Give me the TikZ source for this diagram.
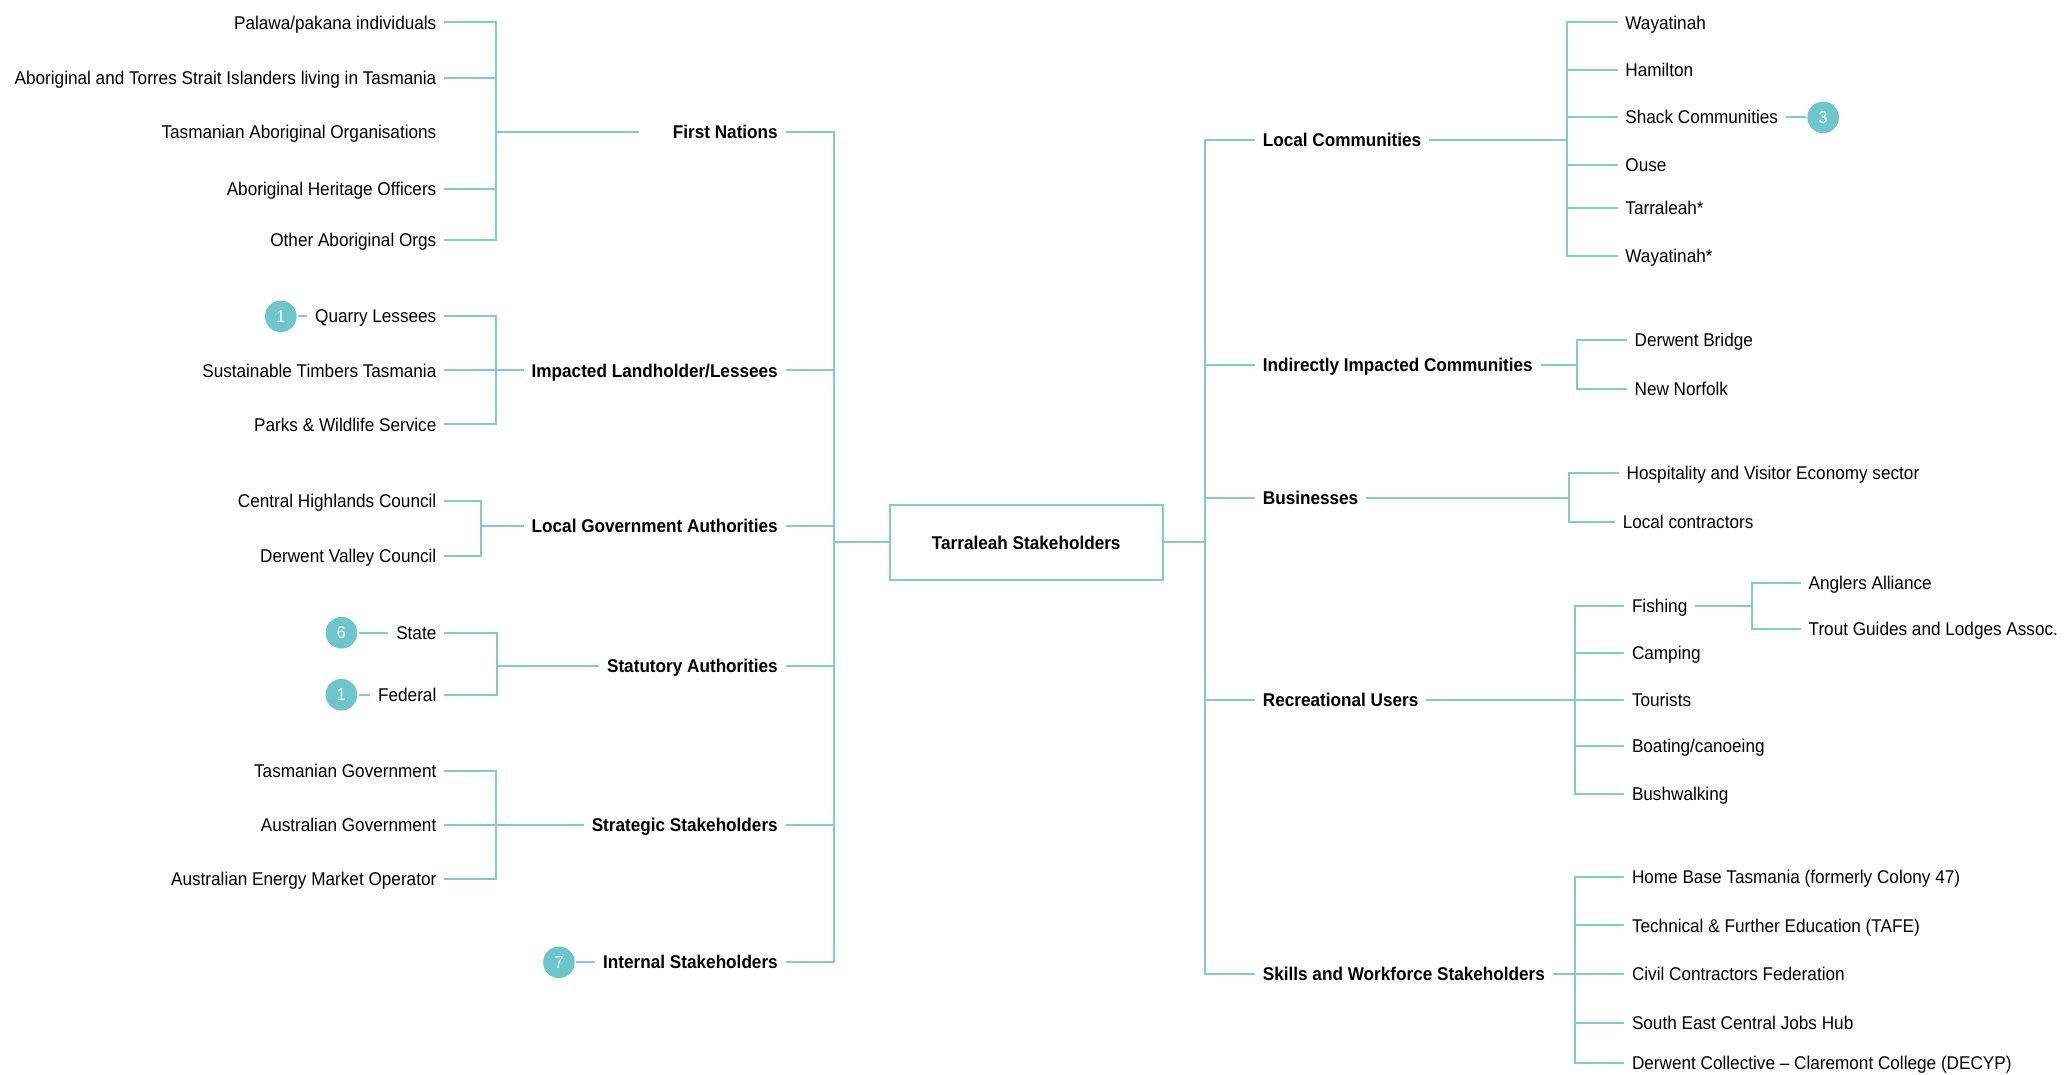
\documentclass[tikz,border=0pt]{standalone}
\usepackage{fontspec}
\setmainfont{Liberation Sans}[FakeStretch=0.93]

\begin{document}
\begin{tikzpicture}
    [x=1pt, y=-1pt,
    inner sep=3pt, outer sep=3pt,%
    link/.style={line width=1.5pt, draw=linkteal},
    leaf/.style={font=\fontsize{14}{16}\selectfont, text height=12pt, text depth=2pt},
    group/.style={leaf, font=\fontsize{14}{16}\selectfont\bfseries},
    badge/.style={circle, fill=badgeteal, text=white, minimum size=24pt,
        inner sep=0pt, outer sep=1pt, font=\fontsize{13}{13}\selectfont}]

    % Colors
    \definecolor{linkteal}{HTML}{7DCCCF}
    \definecolor{badgeteal}{HTML}{6CC7CC}

    \useasboundingbox (0,0) rectangle (1568,815);

    % Hub
    \node[draw=linkteal, line width=1.5pt, minimum width=207pt, minimum height=57pt,
        outer sep=0pt, font=\fontsize{14}{16}\selectfont\bfseries] (hub) at (778.5,411.5) {Tarraleah Stakeholders};
    \coordinate (ltrunk) at (633,411.5);
    \coordinate (rtrunk) at (914,411.5);

    % Left groups
    \node[group, anchor=east] (firstnations) at (596,100) {First Nations};
    \node[group, anchor=east] (impacted)     at (596,281) {Impacted Landholder/Lessees};
    \node[group, anchor=east] (localgov)     at (596,399) {Local Government Authorities};
    \node[group, anchor=east] (statutory)    at (596,505) {Statutory Authorities};
    \node[group, anchor=east] (strategic)    at (596,626) {Strategic Stakeholders};
    \node[group, anchor=east] (internal)     at (596,730) {Internal Stakeholders};

    \draw[link] (firstnations.east) -| (ltrunk) |- (internal.east);
    \foreach \g in {impacted,localgov,statutory,strategic}
        \draw[link] (\g.east) -- (\g.east -| ltrunk);
    \draw[link] (ltrunk) -- (hub);

    % First Nations
    \node[leaf, anchor=east] (palawa)   at (337,17)  {Palawa/pakana individuals};
    \node[leaf, anchor=east] (atsi)     at (337,59)  {Aboriginal and Torres Strait Islanders living in Tasmania};
    \node[leaf, anchor=east] (tao)      at (337,100) {Tasmanian Aboriginal Organisations};
    \node[leaf, anchor=east] (aho)      at (337,143) {Aboriginal Heritage Officers};
    \node[leaf, anchor=east] (aboorgs)  at (337,182) {Other Aboriginal Orgs};
    \coordinate (fnbar) at (376,100);
    \draw[link] (palawa.east) -| (fnbar) |- (aboorgs.east);
    \foreach \n in {atsi,aho}
        \draw[link] (\n.east) -- (\n.east -| fnbar);
    \draw[link, shorten >=20pt] (fnbar) -- (firstnations.west);

    % Impacted Landholder/Lessees
    \node[leaf, anchor=east] (quarry)  at (337,240) {Quarry Lessees};
    \node[leaf, anchor=east] (stt)     at (337,281) {Sustainable Timbers Tasmania};
    \node[leaf, anchor=east] (pws)     at (337,322) {Parks \& Wildlife Service};
    \node[badge] (bquarry) at (213,240) {1};
    \coordinate (ilbar) at (376,281);
    \draw[link] (quarry.east) -| (ilbar) |- (pws.east);
    \draw[link] (stt.east) -- (ilbar) -- (impacted.west);
    \draw[link] (bquarry) -- (quarry.west);

    % Local Government Authorities
    \node[leaf, anchor=east] (chc) at (337,380) {Central Highlands Council};
    \node[leaf, anchor=east] (dvc) at (337,422) {Derwent Valley Council};
    \coordinate (lgbar) at (365,399);
    \draw[link] (chc.east) -| (lgbar) |- (dvc.east);
    \draw[link] (lgbar) -- (localgov.west);

    % Statutory Authorities
    \node[leaf, anchor=east] (state)   at (337,480) {State};
    \node[leaf, anchor=east] (federal) at (337,527) {Federal};
    \node[badge] (bstate)   at (259,480) {6};
    \node[badge] (bfederal) at (259,527) {1};
    \coordinate (sabar) at (377,505);
    \draw[link] (state.east) -| (sabar) |- (federal.east);
    \draw[link] (sabar) -- (statutory.west);
    \draw[link] (bstate) -- (state.west);
    \draw[link] (bfederal) -- (federal.west);

    % Strategic Stakeholders
    \node[leaf, anchor=east] (tasgov) at (337,585) {Tasmanian Government};
    \node[leaf, anchor=east] (ausgov) at (337,626) {Australian Government};
    \node[leaf, anchor=east] (aemo)   at (337,667) {Australian Energy Market Operator};
    \coordinate (ssbar) at (376,626);
    \draw[link] (tasgov.east) -| (ssbar) |- (aemo.east);
    \draw[link] (ausgov.east) -- (ssbar) -- (strategic.west);

    % Internal Stakeholders
    \node[badge] (binternal) at (424,730) {7};
    \draw[link] (binternal) -- (internal.west);

    % Right groups
    \node[group, anchor=west] (localcomm)  at (952,106) {Local Communities};
    \node[group, anchor=west] (indirect)   at (952,277) {Indirectly Impacted Communities};
    \node[group, anchor=west] (business)   at (952,378) {Businesses};
    \node[group, anchor=west] (recreation) at (952,531) {Recreational Users};
    \node[group, anchor=west] (skills)     at (952,739) {Skills and Workforce Stakeholders};

    \draw[link] (localcomm.west) -| (rtrunk) |- (skills.west);
    \foreach \g in {indirect,business,recreation}
        \draw[link] (\g.west) -- (\g.west -| rtrunk);
    \draw[link] (hub) -- (rtrunk);

    % Local Communities
    \node[leaf, anchor=west] (wayatinah)  at (1227,17)  {Wayatinah};
    \node[leaf, anchor=west] (hamilton)   at (1227,53)  {Hamilton};
    \node[leaf, anchor=west] (shack)      at (1227,89)  {Shack Communities};
    \node[leaf, anchor=west] (ouse)       at (1227,125) {Ouse};
    \node[leaf, anchor=west] (tarraleah)  at (1227,158) {Tarraleah*};
    \node[leaf, anchor=west] (wayatinahb) at (1227,194) {Wayatinah*};
    \node[badge] (bshack) at (1383,89) {3};
    \coordinate (lcbar) at (1189,106);
    \draw[link] (wayatinah.west) -| (lcbar) |- (wayatinahb.west);
    \foreach \n in {hamilton,shack,ouse,tarraleah}
        \draw[link] (\n.west) -- (\n.west -| lcbar);
    \draw[link] (localcomm.east) -- (lcbar);
    \draw[link] (shack.east) -- (bshack);

    % Indirectly Impacted Communities
    \node[leaf, anchor=west] (derwentb) at (1234,258) {Derwent Bridge};
    \node[leaf, anchor=west] (newnorf)  at (1234,295) {New Norfolk};
    \coordinate (iibar) at (1196,277);
    \draw[link] (derwentb.west) -| (iibar) |- (newnorf.west);
    \draw[link] (indirect.east) -- (iibar);

    % Businesses
    \node[leaf, anchor=west] (hosp)     at (1228,359) {Hospitality and Visitor Economy sector};
    \node[leaf, anchor=west] (localcon) at (1225,396) {Local contractors};
    \coordinate (bubar) at (1190,378);
    \draw[link] (hosp.west) -| (bubar) |- (localcon.west);
    \draw[link] (business.east) -- (bubar);

    % Recreational Users
    \node[leaf, anchor=west] (fishing)  at (1232,460) {Fishing};
    \node[leaf, anchor=west] (camping)  at (1232,495) {Camping};
    \node[leaf, anchor=west] (tourists) at (1232,531) {Tourists};
    \node[leaf, anchor=west] (boating)  at (1232,566) {Boating/canoeing};
    \node[leaf, anchor=west] (bush)     at (1232,602) {Bushwalking};
    \coordinate (rubar) at (1195,531);
    \draw[link] (fishing.west) -| (rubar) |- (bush.west);
    \foreach \n in {camping,tourists,boating}
        \draw[link] (\n.west) -- (\n.west -| rubar);
    \draw[link] (recreation.east) -- (rubar);

    % Fishing
    \node[leaf, anchor=west] (anglers) at (1366,442) {Anglers Alliance};
    \node[leaf, anchor=west] (trout)   at (1366,477) {Trout Guides and Lodges Assoc.};
    \coordinate (fishbar) at (1329,460);
    \draw[link] (anglers.west) -| (fishbar) |- (trout.west);
    \draw[link] (fishing.east) -- (fishbar);

    % Skills and Workforce Stakeholders
    \node[leaf, anchor=west] (homebase) at (1232,665) {Home Base Tasmania (formerly Colony 47)};
    \node[leaf, anchor=west] (tafe)     at (1232,702) {Technical \& Further Education (TAFE)};
    \node[leaf, anchor=west] (civil)    at (1232,739) {Civil Contractors Federation};
    \node[leaf, anchor=west] (sejobs)   at (1232,776) {South East Central Jobs Hub};
    \node[leaf, anchor=west] (derwentc) at (1232,806) {Derwent Collective – Claremont College (DECYP)};
    \coordinate (swbar) at (1195,739);
    \draw[link] (homebase.west) -| (swbar) |- (derwentc.west);
    \foreach \n in {tafe,civil,sejobs}
        \draw[link] (\n.west) -- (\n.west -| swbar);
    \draw[link] (skills.east) -- (swbar);

\end{tikzpicture}
\end{document}
